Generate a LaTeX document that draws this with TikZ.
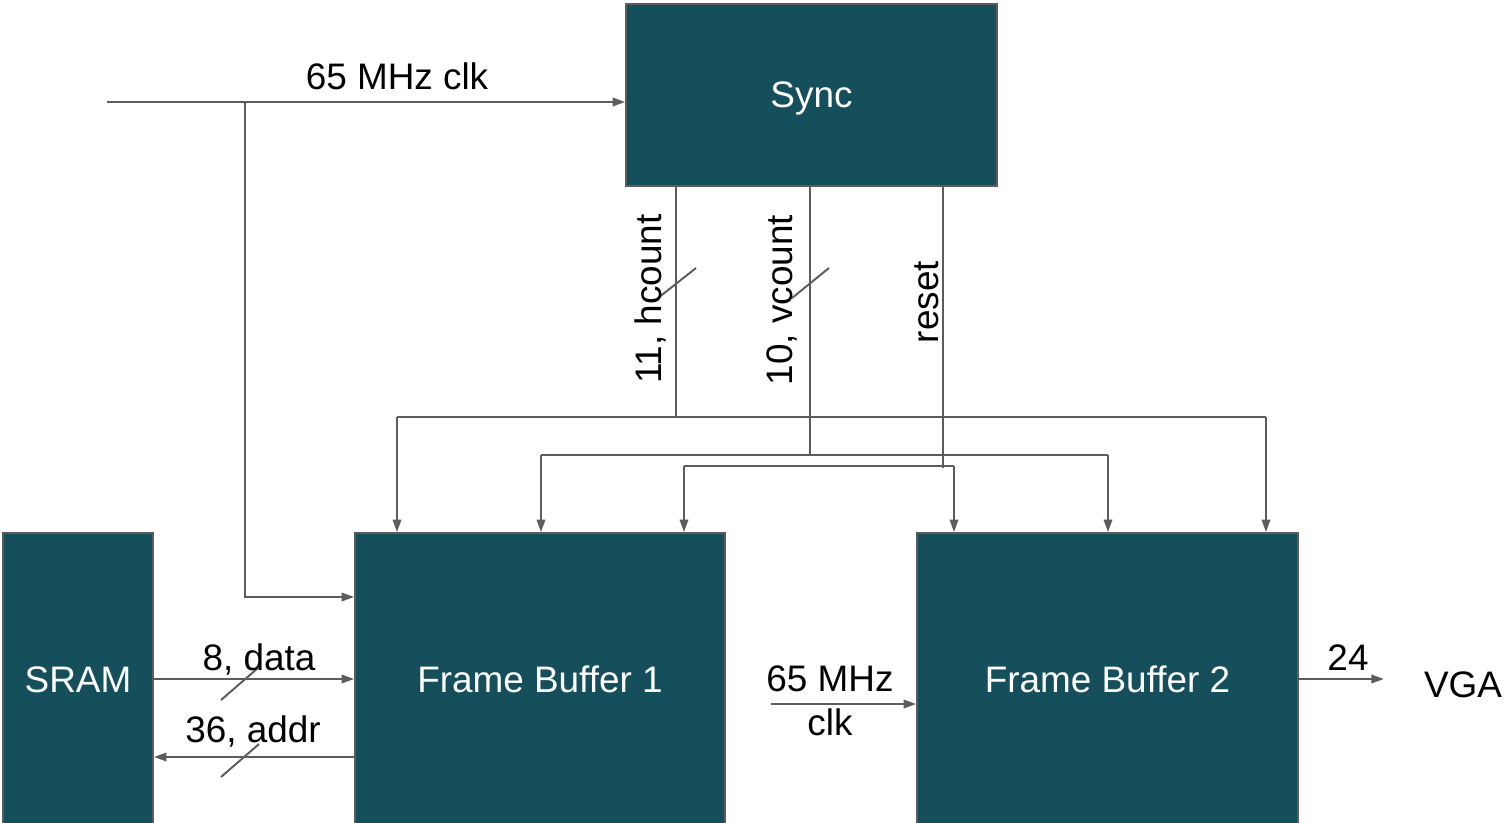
\documentclass[tikz,border=0pt]{standalone}
\usepackage{fontspec}
\setmainfont{Liberation Sans}
\usetikzlibrary{positioning, arrows.meta, calc}
\definecolor{blkteal}{RGB}{22, 79, 92}
\definecolor{wiregray}{RGB}{92, 92, 92}

\begin{document}
\begin{tikzpicture}[x=0.02cm, y=-0.02cm, font=\fontsize{21}{25}\selectfont,
  blk/.style={fill=blkteal, draw=wiregray, line width=1.1pt, text=white, text depth=0pt},
  wire/.style={draw=wiregray, line width=1.1pt},
  arr/.style={-{Triangle[length=0.25cm, width=0.17cm]}}]
  \clip (0,0) rectangle (1508,822);
  % blocks
  \node[blk, minimum width=7.42cm, minimum height=3.64cm] (sync) at (811.5,95){Sync};
  \node[blk, minimum width=3.0cm, minimum height=5.86cm] (sram) at (78,679.5){SRAM};
  \node[blk, minimum width=7.4cm, minimum height=5.86cm] (fbone) at (540,679.5){Frame Buffer 1};
  \node[blk, minimum width=7.62cm, minimum height=5.86cm] (fbtwo) at (1107.5,679.5){Frame Buffer 2};
  \node (vga) at (1463,685){VGA};

  % clock in
  \coordinate (clkin) at (107,102);
  \coordinate (clksplit) at (245,102);
  \coordinate (fbclkrow) at (0,597);
  \draw[wire, arr] (clkin) -- (sync.west |- clkin);
  \draw[wire, arr] (clksplit) |- (fbone.west |- fbclkrow);
  \node (clklbl) at (397,76){65 MHz clk};

  % hcount bus
  \coordinate (hctap) at (676,417);
  \coordinate (hcl) at (397,417);
  \coordinate (hcr) at (1266,417);
  \draw[wire] (sync.south -| hctap) -- (hctap);
  \draw[wire] (hcl) -- (hcr);
  \draw[wire, arr] (hcl) -- (hcl |- fbone.north);
  \draw[wire, arr] (hcr) -- (hcr |- fbtwo.north);
  \draw[wire] (658,298) -- (696,268);
  \node[rotate=90] (hclbl) at (650,299){11, hcount};

  % vcount bus
  \coordinate (vctap) at (810,455);
  \coordinate (vcl) at (541,455);
  \coordinate (vcr) at (1108,455);
  \draw[wire] (sync.south -| vctap) -- (vctap);
  \draw[wire] (vcl) -- (vcr);
  \draw[wire, arr] (vcl) -- (vcl |- fbone.north);
  \draw[wire, arr] (vcr) -- (vcr |- fbtwo.north);
  \draw[wire] (792,298) -- (829,268);
  \node[rotate=90] (vclbl) at (782,300){10, vcount};

  % reset
  \coordinate (rsttap) at (943,468);
  \coordinate (rstl) at (684,466);
  \coordinate (rstr) at (954,466);
  \draw[wire] (sync.south -| rsttap) -- (rsttap);
  \draw[wire] (rstl) -- (rstr);
  \draw[wire, arr] (rstl) -- (rstl |- fbone.north);
  \draw[wire, arr] (rstr) -- (rstr |- fbtwo.north);
  \node[rotate=90] (rstlbl) at (927,302){reset};

  % sram data and addr
  \coordinate (datrow) at (0,679);
  \coordinate (adrrow) at (0,757);
  \draw[wire, arr] (sram.east |- datrow) -- (fbone.west |- datrow);
  \draw[wire, arr] (fbone.west |- adrrow) -- (sram.east |- adrrow);
  \draw[wire] (221,700) -- (258,668);
  \draw[wire] (221,777) -- (259,744);
  \node (datlbl) at (259,659){8, data};
  \node (adrlbl) at (253,731){36, addr};

  % second clock and vga out
  \coordinate (clktwo) at (771,704);
  \draw[wire, arr] (clktwo) -- (fbtwo.west |- clktwo);
  \node (clktwolbl) at (830,678.5){65 MHz};
  \node (clktwolbl2) at (830,722.5){clk};
  \draw[wire, arr, shorten >=0.68cm] (fbtwo.east |- datrow) -- (vga.west |- datrow);
  \node (vgalbl) at (1348,658){24};
\end{tikzpicture}
\end{document}
